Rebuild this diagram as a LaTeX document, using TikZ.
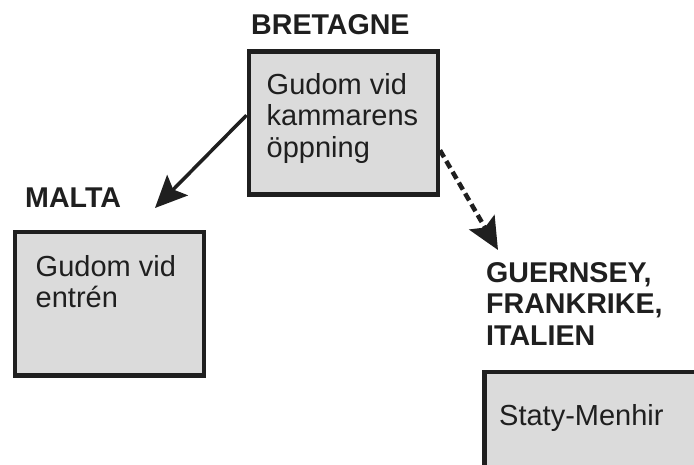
\documentclass[tikz,border=0pt]{standalone}
\usepackage{fontspec}
\setmainfont{Liberation Sans}
\usetikzlibrary{arrows.meta}
\definecolor{boxfill}{gray}{0.86}
\definecolor{ink}{gray}{0.12}
\tikzset{
  place/.style={draw=ink, fill=boxfill, line width=4.5pt, inner sep=0pt, anchor=north west,
    minimum width=189pt, minimum height=143pt},
  placetext/.style={text=ink, inner sep=0pt, anchor=base west, align=left,
    font=\fontsize{29}{31.5}\selectfont},
  region/.style={placetext, font=\fontsize{28.6}{31.5}\selectfont\bfseries},
  darrow/.style={-{Stealth[length=32pt,width=29pt,inset=6pt]}, line width=3.5pt, draw=ink},
  dasharrow/.style={darrow, line width=4.5pt, dash pattern=on 8pt off 4.5pt}
}

\begin{document}
\begin{tikzpicture}[x=1pt, y=-1pt]
    \useasboundingbox (0,0) rectangle (694,465);
    \clip (0,0) rectangle (694,465);
    % boxes
    \node[place] (bretagne) at (246.5,49.5) {};
    \node[place] (malta) at (12.5,230) {};
    \node[place, minimum width=400pt, minimum height=200pt] (menhir) at (482,369.5) {};
    % texts in the boxes (base = last line)
    \node[placetext] (bretagne-text) at (266.5,157.5) {Gudom vid\\kammarens\\öppning};
    \node[placetext] (malta-text) at (35.5,308) {Gudom vid\\entrén};
    \node[placetext] (menhir-text) at (499,425) {Staty-Menhir};
    % region labels
    \node[region] (bretagne-label) at (251,35) {BRETAGNE};
    \node[region] (malta-label) at (25,208) {MALTA};
    \node[region] (menhir-label) at (486,345) {GUERNSEY,\\FRANKRIKE,\\ITALIEN};
    % arrows
    \coordinate (malta-in) at (155,208);
    \coordinate (menhir-in) at (498,250);
    \draw[darrow] ([yshift=8pt]bretagne.west) -- (malta-in);
    \draw[dasharrow] ([yshift=-27pt]bretagne.east) -- (menhir-in);
  \end{tikzpicture}
\end{document}
